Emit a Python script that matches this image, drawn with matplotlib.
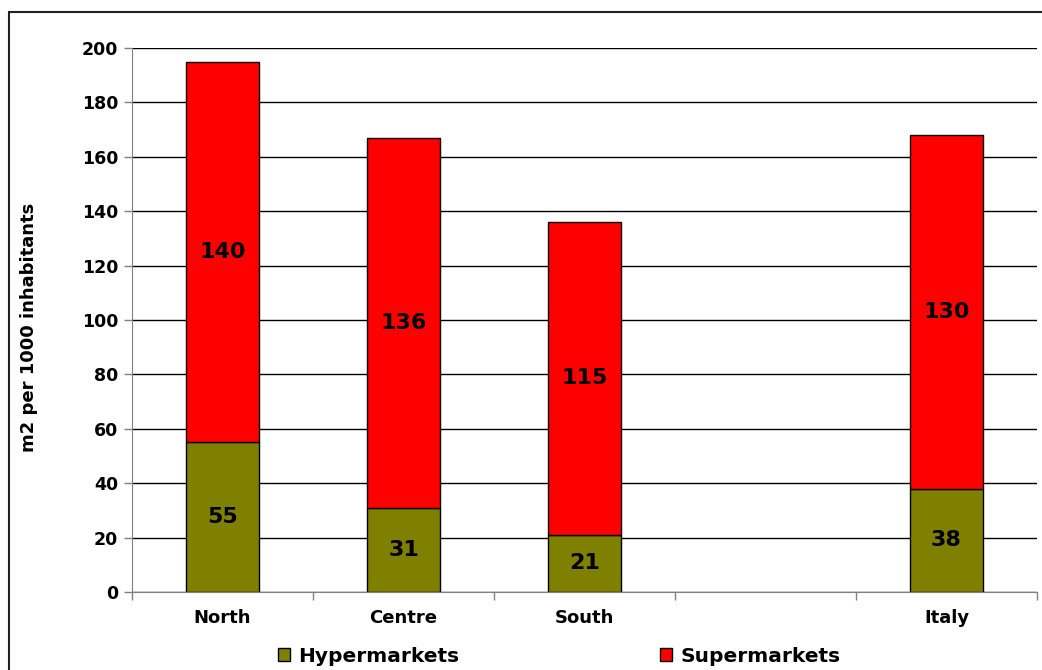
import matplotlib
matplotlib.use('Agg')
import matplotlib.pyplot as plt
from matplotlib.patches import Rectangle
import numpy as np

regions = ['North', 'Centre', 'South', '', 'Italy']
hypermarkets = [55, 31, 21, None, 38]
supermarkets = [140, 136, 115, None, 130]

hyper_color = '#808000'
super_color = '#ff0000'

plt.rcParams['font.family'] = ['DejaVu Sans']
plt.rcParams['font.weight'] = 'bold'

fig = plt.figure(figsize=(10.42, 6.70), dpi=100)
ax = fig.add_axes([132 / 1042, 1 - 592 / 670, (1037 - 132) / 1042, (592 - 48) / 670])

# frame around the whole chart (runs off right/bottom like the original)
fig.patches.append(Rectangle((9 / 1042, -0.05), 1.2, 1 - 12 / 670 + 0.05,
                             transform=fig.transFigure, fill=False,
                             edgecolor='#222222', linewidth=1.5, zorder=0))

x = np.arange(len(regions))
width = 0.40
for i in range(len(regions)):
    if hypermarkets[i] is None:
        continue
    h = hypermarkets[i]
    s = supermarkets[i]
    ax.bar(x[i], h, width, color=hyper_color, edgecolor='black', linewidth=1, zorder=3)
    ax.bar(x[i], s, width, bottom=h, color=super_color, edgecolor='black', linewidth=1, zorder=3)
    ax.text(x[i], h / 2, str(h), ha='center', va='center', fontsize=16,
            fontweight='bold', zorder=4)
    ax.text(x[i], h + s / 2, str(s), ha='center', va='center', fontsize=16,
            fontweight='bold', zorder=4)

ax.set_xlim(-0.5, len(regions) - 0.5)
ax.set_ylim(0, 200)
ax.set_yticks(range(0, 201, 20))
ax.yaxis.grid(True, color='black', linewidth=1)
ax.set_axisbelow(True)

ax.set_xticks(x)
ax.set_xticklabels(regions, fontsize=13, fontweight='bold')
ax.tick_params(axis='x', which='major', length=0, pad=12)
ax.set_xticks(np.arange(-0.5, len(regions), 1.0), minor=True)
ax.tick_params(axis='x', which='minor', length=6, color='#808080', width=1)
ax.tick_params(axis='y', length=6, color='#808080', width=1, labelsize=12.5, pad=4)
for lbl in ax.get_yticklabels():
    lbl.set_fontweight('bold')

for side in ['top', 'right']:
    ax.spines[side].set_visible(False)
ax.spines['left'].set_color('#808080')
ax.spines['bottom'].set_color('#808080')

ax.set_ylabel('m2 per 1000 inhabitants', fontsize=13, fontweight='bold')
ax.yaxis.set_label_coords((38 - 132) / 905, (592 - 327) / 544)

handles = [Rectangle((0, 0), 1, 1, facecolor=hyper_color, edgecolor='black'),
           Rectangle((0, 0), 1, 1, facecolor=super_color, edgecolor='black')]
fig.legend(handles, ['Hypermarkets', 'Supermarkets'], loc='center',
           bbox_to_anchor=(559 / 1042, 1 - 656 / 670), ncol=2, frameon=False,
           prop={'size': 14.5, 'weight': 'bold'}, handlelength=0.6, handleheight=0.6,
           handletextpad=0.4, columnspacing=10.0)

fig.savefig('out.png', dpi=100)
